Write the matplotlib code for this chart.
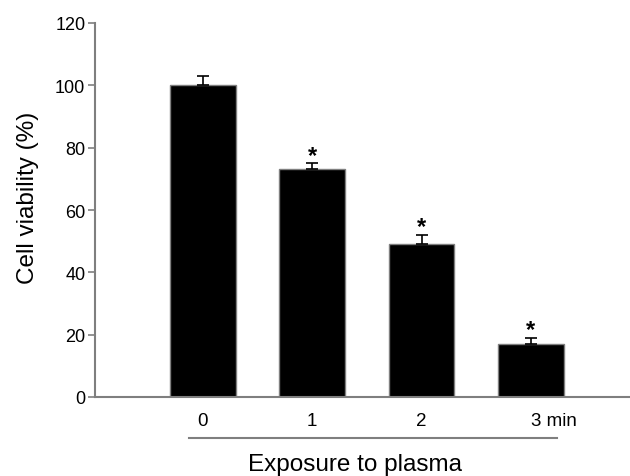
import matplotlib
matplotlib.use("Agg")
import matplotlib.pyplot as plt
from matplotlib.transforms import blended_transform_factory

categories = ["0", "1", "2", "3 min"]
viability = [100, 73, 49, 17]
errors = [3, 2, 3, 2]
significant = [False, True, True, True]
yticks = [0, 20, 40, 60, 80, 100, 120]

plt.rcParams['font.family'] = ['Liberation Sans', 'DejaVu Sans']

fig = plt.figure(figsize=(6.3, 4.77), dpi=100)
ax = fig.add_axes([95/630, 1-398/477, 1-95/630, (398-24)/477])

x = list(range(len(categories)))
gray = '#7f7f7f'
ax.bar(x, viability, width=0.6, color='black', edgecolor=gray, linewidth=1.0, zorder=2)
ax.errorbar(x, viability, yerr=[[0]*len(errors), errors], fmt='none', ecolor='black',
            elinewidth=1.2, capsize=4, capthick=1.2, zorder=3)
for xi, v, e, s in zip(x, viability, errors, significant):
    if s:
        ax.text(xi, v + e - 1.1, '*', ha='center', va='bottom', fontsize=17,
                fontweight='bold')

ax.set_ylim(0, 120)
ax.set_xlim(-0.988, 3.907)
ax.set_yticks(yticks)
ax.set_yticklabels([str(t) for t in yticks], fontsize=13)
ax.set_xticks(x)
ax.set_xticklabels(categories, fontsize=13.5)
ax.get_xticklabels()[-1].set_horizontalalignment('left')
ax.tick_params(axis='x', length=0, pad=11)
ax.tick_params(axis='y', length=5, width=1.2, color=gray, direction='out', pad=2)

for side in ['top', 'right']:
    ax.spines[side].set_visible(False)
for side in ['left', 'bottom']:
    ax.spines[side].set_color(gray)
    ax.spines[side].set_linewidth(1.5)

fig.text(28/630, 1-198/477, 'Cell viability (%)', rotation=90, ha='center', va='center',
         fontsize=17.5)

trans = blended_transform_factory(ax.transData, ax.transAxes)
ax.plot([-0.128, 3.239], [-0.11, -0.11], color=gray, linewidth=1.5,
        transform=trans, clip_on=False)
ax.text(1.39, -0.18, 'Exposure to plasma', transform=trans, ha='center', va='center',
        fontsize=17.5)

fig.savefig('out.png', dpi=100)
